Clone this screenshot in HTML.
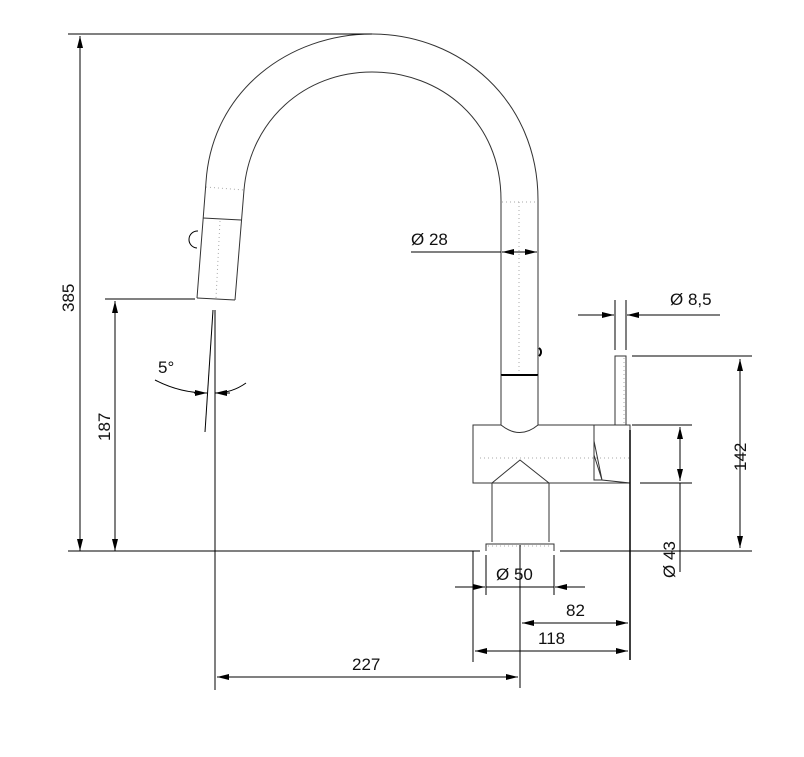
<!DOCTYPE html>
<html><head><meta charset="utf-8"><style>
html,body{margin:0;padding:0;background:#fff;width:804px;height:757px;overflow:hidden}
svg{display:block}
text{font-family:"Liberation Sans",sans-serif;font-size:17px;fill:#111}
</style></head><body>
<svg width="804" height="757" viewBox="0 0 804 757" xmlns="http://www.w3.org/2000/svg">
<defs>
<marker id="a" viewBox="0 0 12 6" refX="12" refY="3" markerWidth="12" markerHeight="6" orient="auto-start-reverse" markerUnits="userSpaceOnUse"><path d="M0,0L12,3L0,6z" fill="#000"/></marker>
</defs>
<g fill="none" stroke="#333" stroke-width="1">
<path d="M197,298 L206,182 C212,90 290,34 372,34 C460,34 538,100 538,200 L538,375"/>
<path d="M235,300 L244,190 C250,120 305,72 372,72 C440,72 501,120 501,200 L501,375"/>
<path d="M197,298 L235,300"/>
<path d="M203,218 L241,220"/>
<path d="M198,231 A8,8 0 0 0 197,248" stroke="#000"/>
<path d="M539,348 A5,5 0 0 1 539,356" stroke="#000" stroke-width="2"/>
<g stroke="#aaa" stroke-dasharray="1,3">
<path d="M206,187 L244,190"/><path d="M220,221 L216,298"/>
<path d="M502,202 L538,202"/><path d="M519,202 L519,375"/>
<path d="M480,458 L630,458"/><path d="M488,546 L552,546"/><path d="M624,358 L624,424"/>
</g>
<path d="M501,375 L538,375" stroke="#000" stroke-width="2"/>
<path d="M501,375 L501,425 M538,375 L538,425"/>
<path d="M473,425 L501,425 Q520,440 538,425 L630,425 L630,483 L473,483 Z"/>
<path d="M492,483 L492,542 M549,483 L549,542 M492,483 L520,460 L549,483"/>
<path d="M486,551 L486,544 L554,544 L554,551"/>
<path d="M594,425 L594,480 L602,480 L594,455 M594,441 L602,480 L630,483"/>
<path d="M615,425 L615,356 L626,356 L626,425"/>
</g>
<g fill="none" stroke="#000" stroke-width="1">
<path d="M630,430 L630,660" stroke-width="1.5"/>
<path d="M68,34 L372,34"/>
<path d="M68,551 L480,551 M560,551 L752,551"/>
<path d="M105,299 L195,299"/>
<path d="M80,551 L80,36" marker-end="url(#a)" marker-start="url(#a)"/>
<path d="M115,551 L115,301" marker-end="url(#a)" marker-start="url(#a)"/>
<path d="M215,310 L215,690"/>
<path d="M213,310 L205,432"/>
<path d="M155,380 Q180,393 207,393"/>
<path d="M246,383 Q232,393 215,393"/>
<path d="M194,393 L207,393" marker-end="url(#a)"/>
<path d="M230,393 L215,393" marker-end="url(#a)"/>
<path d="M411,252 L501,252"/>
<path d="M519,252 L502,252" marker-end="url(#a)"/>
<path d="M519,252 L537,252" marker-end="url(#a)"/>
<path d="M615,300 L615,350 M626,300 L626,350"/>
<path d="M578,315 L614,315" marker-end="url(#a)"/>
<path d="M720,315 L627,315" marker-end="url(#a)"/>
<path d="M632,356 L752,356"/>
<path d="M740,359 L740,548" marker-end="url(#a)" marker-start="url(#a)"/>
<path d="M632,425 L692,425 M640,483 L692,483"/>
<path d="M680,427 L680,481" marker-end="url(#a)" marker-start="url(#a)"/>
<path d="M680,483 L680,572"/>
<path d="M486,555 L486,595 M554,555 L554,595"/>
<path d="M455,587 L485,587" marker-end="url(#a)"/>
<path d="M585,587 L555,587" marker-end="url(#a)"/>
<path d="M486,587 L554,587"/>
<path d="M473,551 L473,662 M520,545 L520,688"/>
<path d="M522,623 L628,623" marker-end="url(#a)" marker-start="url(#a)"/>
<path d="M475,651 L628,651" marker-end="url(#a)" marker-start="url(#a)"/>
<path d="M217,677 L518,677" marker-end="url(#a)" marker-start="url(#a)"/>
</g>
<text x="158" y="373">5°</text>
<text x="411" y="245">Ø  28</text>
<text x="670" y="305">Ø  8,5</text>
<text x="496" y="580">Ø  50</text>
<text x="566" y="616">82</text>
<text x="538" y="644">118</text>
<text x="352" y="670">227</text>
<text transform="translate(74,312) rotate(-90)">385</text>
<text transform="translate(110,441) rotate(-90)">187</text>
<text transform="translate(746,471) rotate(-90)">142</text>
<text transform="translate(675,578) rotate(-90)">Ø  43</text>
</svg>
</body></html>
